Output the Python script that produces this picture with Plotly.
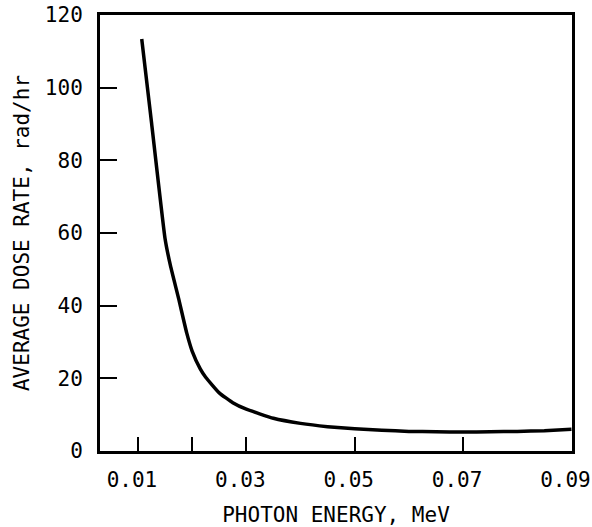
import plotly.graph_objects as go

# Data
photon_energy = [0.0107, 0.0125, 0.015, 0.016, 0.0175, 0.019, 0.02, 0.0215,
                 0.0225, 0.025, 0.0275, 0.03, 0.035, 0.04, 0.045, 0.05,
                 0.055, 0.06, 0.065, 0.07, 0.075, 0.08, 0.085, 0.09]
dose_rate = [113.4, 90.5, 58.5, 51.0, 42.0, 32.5, 27.5, 22.6,
             20.3, 16.0, 13.3, 11.5, 9.0, 7.6, 6.7, 6.1,
             5.7, 5.4, 5.3, 5.2, 5.3, 5.4, 5.6, 6.0]

x_tickvals = [0.01, 0.02, 0.03, 0.05, 0.07, 0.09]
x_ticktext = ["0.01", "", "0.03", "0.05", "0.07", "0.09"]
y_tickvals = [0, 20, 40, 60, 80, 100, 120]
y_ticktext = ["0", "20", "40", "60", "80", "100", "120"]

font_family = "DejaVu Sans Mono"

fig = go.Figure()
fig.add_trace(go.Scatter(
    x=photon_energy, y=dose_rate, mode="lines",
    line=dict(color="black", width=3.5, shape="spline", smoothing=0.4),
    showlegend=False,
))

fig.update_layout(
    width=592, height=527,
    margin=dict(l=100, r=20, t=15, b=76),
    paper_bgcolor="white", plot_bgcolor="white",
    font=dict(family=font_family, size=21, color="black"),
)

fig.update_xaxes(
    range=[0.003, 0.0901],
    tickvals=x_tickvals, ticktext=x_ticktext,
    ticks="inside", ticklen=14, tickwidth=1.5, tickcolor="black",
    showline=True, linecolor="black", linewidth=3, mirror=True,
    showgrid=False, zeroline=False, automargin=False,
    ticklabelstandoff=8, ticklabelshift=-6, ticklabeloverflow="allow",
    tickfont=dict(family=font_family, size=21),
    title=dict(text="PHOTON ENERGY, MeV", standoff=18,
               font=dict(family=font_family, size=21)),
)
fig.update_yaxes(
    range=[0, 120],
    tickvals=y_tickvals, ticktext=y_ticktext,
    ticks="inside", ticklen=17, tickwidth=1.5, tickcolor="black",
    showline=True, linecolor="black", linewidth=3, mirror=True,
    showgrid=False, zeroline=False, automargin=False,
    ticklabelstandoff=10,
    tickfont=dict(family=font_family, size=21),
    title=dict(text="AVERAGE DOSE RATE, rad/hr", standoff=10,
               font=dict(family=font_family, size=21)),
)

fig.write_html("out.html")
